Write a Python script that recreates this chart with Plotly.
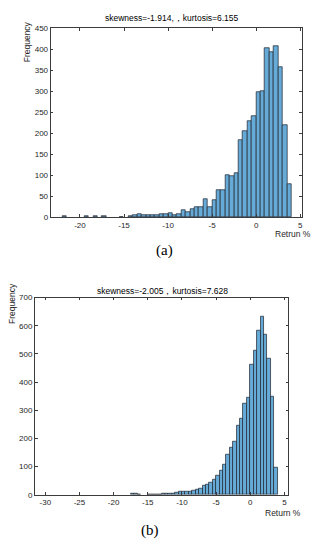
import plotly.graph_objects as go

BIN_WIDTH = 0.5

# (a) bin left edges and counts
bins_a = [-22.0, -19.5, -18.5, -17.5, -15.5, -14.5, -14.0, -13.5, -13.0, -12.5,
          -12.0, -11.5, -11.0, -10.5, -10.0, -9.5, -9.0, -8.5, -8.0, -7.5,
          -7.0, -6.5, -6.0, -5.5, -5.0, -4.5, -4.0, -3.5, -3.0, -2.5,
          -2.0, -1.5, -1.0, -0.5, 0.0, 0.5, 1.0, 1.5, 2.0, 2.5, 3.0, 3.5]
counts_a = [2, 2, 2, 2, 1, 3, 5, 7, 6, 4,
            5, 5, 8, 8, 10, 5, 7, 16, 12, 18,
            25, 25, 44, 25, 40, 65, 65, 99, 97, 106,
            183, 205, 229, 241, 297, 299, 403, 393, 407, 356, 219, 78]

# (b) bin left edges and counts
bins_b = [-17.5, -17.0, -16.5, -15.0, -14.5, -14.0, -13.5, -13.0, -12.5, -12.0,
          -11.5, -11.0, -10.5, -10.0, -9.5, -9.0, -8.5, -8.0, -7.5, -7.0,
          -6.5, -6.0, -5.5, -5.0, -4.5, -4.0, -3.5, -3.0, -2.5, -2.0,
          -1.5, -1.0, -0.5, 0.0, 0.5, 1.0, 1.5, 2.0, 2.5, 3.0, 3.5]
counts_b = [3, 4, 2, 1, 1, 2, 2, 3, 3, 5,
            6, 7, 12, 13, 13, 13, 14, 17, 23, 31,
            35, 45, 55, 70, 86, 107, 142, 169, 189, 247,
            270, 323, 344, 461, 512, 582, 634, 569, 483, 348, 98]

xticks_a = [-20, -15, -10, -5, 0, 5]
yticks_a = [0, 50, 100, 150, 200, 250, 300, 350, 400, 450]
xticks_b = [-30, -25, -20, -15, -10, -5, 0, 5]
yticks_b = [0, 100, 200, 300, 400, 500, 600, 700]

title_a = "skewness=-1.914,，kurtosis=6.155"
title_b = "skewness=-2.005，kurtosis=7.628"
xlabel_a = "Retrun %"
xlabel_b = "Return %"
ylabel = "Frequency"

FACE = "rgb(102,170,215)"
EDGE = "rgb(30,35,45)"
AXC = "rgb(60,60,60)"
TXT = "rgb(38,38,38)"
SANS = "Liberation Sans, Arial"
SERIF = "Liberation Serif, DejaVu Serif"

fig = go.Figure()
fig.add_trace(go.Bar(x=[b + BIN_WIDTH / 2 for b in bins_a], y=counts_a, width=BIN_WIDTH,
                     marker=dict(color=FACE, line=dict(color=EDGE, width=0.7)),
                     xaxis="x", yaxis="y", showlegend=False))
fig.add_trace(go.Bar(x=[b + BIN_WIDTH / 2 for b in bins_b], y=counts_b, width=BIN_WIDTH,
                     marker=dict(color=FACE, line=dict(color=EDGE, width=0.7)),
                     xaxis="x2", yaxis="y2", showlegend=False))

W, H = 316, 550


def ax(domain, rng, ticks, anchor):
    return dict(domain=domain, range=rng, tickvals=ticks, ticktext=[str(t) for t in ticks],
                showline=True, linecolor=AXC, linewidth=0.7, mirror="allticks",
                ticks="inside", ticklen=3, tickcolor=AXC, tickwidth=0.7,
                showgrid=False, zeroline=False, anchor=anchor,
                tickfont=dict(family=SANS, size=8, color=TXT))


fig.update_layout(
    width=W, height=H,
    margin=dict(l=0, r=0, t=0, b=0),
    paper_bgcolor="white", plot_bgcolor="white",
    bargap=0,
    xaxis=ax([50.7 / W, 303 / W], [-23.34, 5.2], xticks_a, "y"),
    yaxis=ax([1 - 216.7 / H, 1 - 24.5 / H], [0, 450], yticks_a, "x"),
    xaxis2=ax([35 / W, 289.3 / W], [-31.53, 5.59], xticks_b, "y2"),
    yaxis2=ax([1 - 499 / H, 1 - 298.5 / H], [0, 700], yticks_b, "x2"),
)


def note(text, x, y, font, angle=0):
    return dict(text=text, x=x / W, y=1 - y / H, xref="paper", yref="paper",
                xanchor="center", yanchor="middle", showarrow=False,
                textangle=angle, font=font)


ann = [
    note(title_a, 173, 14.5, dict(family=SANS, size=8.5, color="black")),
    note(title_b, 163, 291.5, dict(family=SANS, size=8.5, color="black")),
    note(ylabel, 27, 38, dict(family=SANS, size=8.5, color=TXT), -90),
    note(ylabel, 12, 304, dict(family=SANS, size=8.5, color=TXT), -90),
    note(xlabel_a, 294, 233.5, dict(family=SANS, size=8.5, color=TXT)),
    note(xlabel_b, 284, 517.5, dict(family=SANS, size=8.5, color=TXT)),
    note("(a)", 165.5, 250.5, dict(family=SERIF, size=15, color="black")),
    note("(b)", 150.5, 535.5, dict(family=SERIF, size=15, color="black")),
]
fig.update_layout(annotations=ann)

fig.write_html("out.html", config={"displayModeBar": False},
               post_script="document.body.style.margin='0';")
